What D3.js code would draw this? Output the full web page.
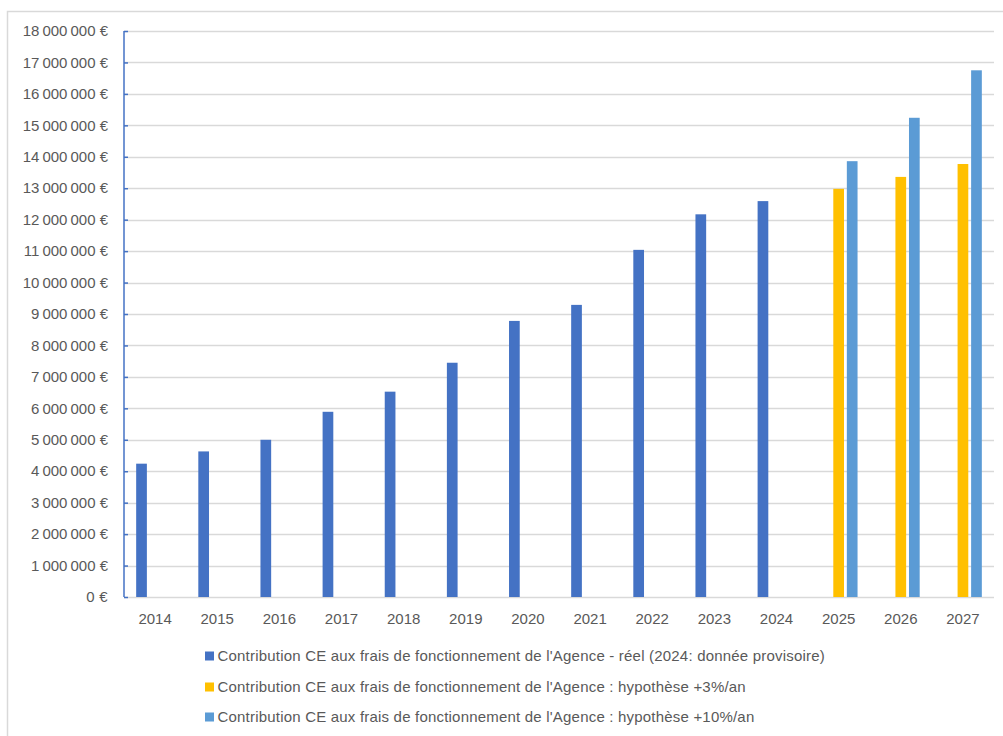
<!DOCTYPE html>
<html>
<head>
<meta charset="utf-8">
<script src="https://cdn.jsdelivr.net/npm/d3@7"></script>
<style>
  html, body { margin: 0; padding: 0; background: #fff; }
  svg { display: block; font-family: "Liberation Sans", Arial, sans-serif; }
</style>
</head>
<body>
<svg id="chart" width="1003" height="736"></svg>
<script>
// Annual EC contribution to the Agency's running costs (EUR)
const years = ["2014","2015","2016","2017","2018","2019","2020","2021","2022","2023","2024","2025","2026","2027"];
const actual = [4240000, 4630000, 5000000, 5890000, 6530000, 7450000, 8780000, 9290000, 11040000, 12170000, 12590000, null, null, null];
const plus3 = [null, null, null, null, null, null, null, null, null, null, null, 12980000, 13360000, 13770000];
const plus10 = [null, null, null, null, null, null, null, null, null, null, null, 13860000, 15240000, 16750000];
const seriesNames = [
  "Contribution CE aux frais de fonctionnement de l'Agence - réel (2024: donnée provisoire)",
  "Contribution CE aux frais de fonctionnement de l'Agence : hypothèse +3%/an",
  "Contribution CE aux frais de fonctionnement de l'Agence : hypothèse +10%/an"
];
const seriesColors = ["#4472C4", "#FFC000", "#5B9BD5"];
const yTicks = d3.range(0, 18000001, 1000000);

const series = [actual, plus3, plus10].map((vals, i) => ({ key: "s" + i, name: seriesNames[i], color: seriesColors[i], vals }));

const svg = d3.select("#chart");
const plot = { left: 124, right: 994, top: 31, bottom: 597 };
const fontSize = 15;

// chart frame
svg.append("rect")
  .attr("x", 7.5).attr("y", 11.5)
  .attr("width", 1010).attr("height", 740)
  .attr("fill", "#fff").attr("stroke", "#d9d9d9").attr("stroke-width", 1.5);

const x0 = d3.scaleBand().domain(years).range([plot.left, plot.right]).padding(0);
const x1 = d3.scaleBand().domain(series.map(s => s.key)).range([-18.9, 18.9]).paddingInner(0.21);
const y = d3.scaleLinear().domain([0, 18000000]).range([plot.bottom, plot.top]);

const fmt = v => d3.format(",")(v).replace(/,/g, "\u202F") + "\u00A0€";

// horizontal gridlines
svg.append("g")
  .selectAll("line")
  .data(yTicks)
  .join("line")
  .attr("x1", plot.left).attr("x2", plot.right)
  .attr("y1", d => Math.round(y(d)) + 0.5).attr("y2", d => Math.round(y(d)) + 0.5)
  .attr("stroke", "#d9d9d9").attr("stroke-width", 1.5);

// y axis
const yAxis = svg.append("g")
  .attr("transform", `translate(${plot.left},0)`)
  .call(d3.axisRight(y).tickValues(yTicks).tickSize(4).tickFormat(""));
yAxis.selectAll("path, line").attr("stroke", "#4472C4").attr("stroke-width", 1.5);
yAxis.select(".domain").attr("d", `M0,${plot.top}V${plot.bottom}`);

svg.append("g")
  .selectAll("text")
  .data(yTicks)
  .join("text")
  .attr("x", 108).attr("y", d => y(d))
  .attr("dy", "0.35em")
  .attr("text-anchor", "end")
  .attr("font-size", fontSize)
  .attr("letter-spacing", 0.3)
  .attr("fill", "#595959")
  .text(d => fmt(d));

// x labels
const xAxis = svg.append("g")
  .attr("transform", `translate(0,${plot.bottom})`)
  .call(d3.axisBottom(x0).tickSize(0).tickPadding(16));
xAxis.select(".domain").remove();
xAxis.selectAll("text")
  .attr("font-family", "Liberation Sans, Arial, sans-serif")
  .attr("font-size", fontSize)
  .attr("fill", "#595959");

// bars
series.forEach(s => {
  svg.append("g")
    .selectAll("rect")
    .data(years.map((yr, i) => ({ yr, v: s.vals[i] })).filter(d => d.v != null))
    .join("rect")
    .attr("x", d => x0(d.yr) + x0.bandwidth() / 2 + x1(s.key))
    .attr("width", x1.bandwidth())
    .attr("y", d => y(d.v))
    .attr("height", d => y(0) - y(d.v))
    .attr("fill", s.color);
});

// legend
const legend = svg.append("g");
const rowY = [656, 687, 717];
series.forEach((s, i) => {
  const g = legend.append("g").attr("transform", `translate(205,${rowY[i]})`);
  g.append("rect").attr("x", 0).attr("y", -4.5).attr("width", 9).attr("height", 9).attr("fill", s.color);
  g.append("text").attr("x", 12.5).attr("y", 0).attr("dy", "0.35em")
    .attr("font-size", fontSize).attr("letter-spacing", 0.2)
    .attr("fill", "#595959").text(s.name);
});
</script>
</body>
</html>
